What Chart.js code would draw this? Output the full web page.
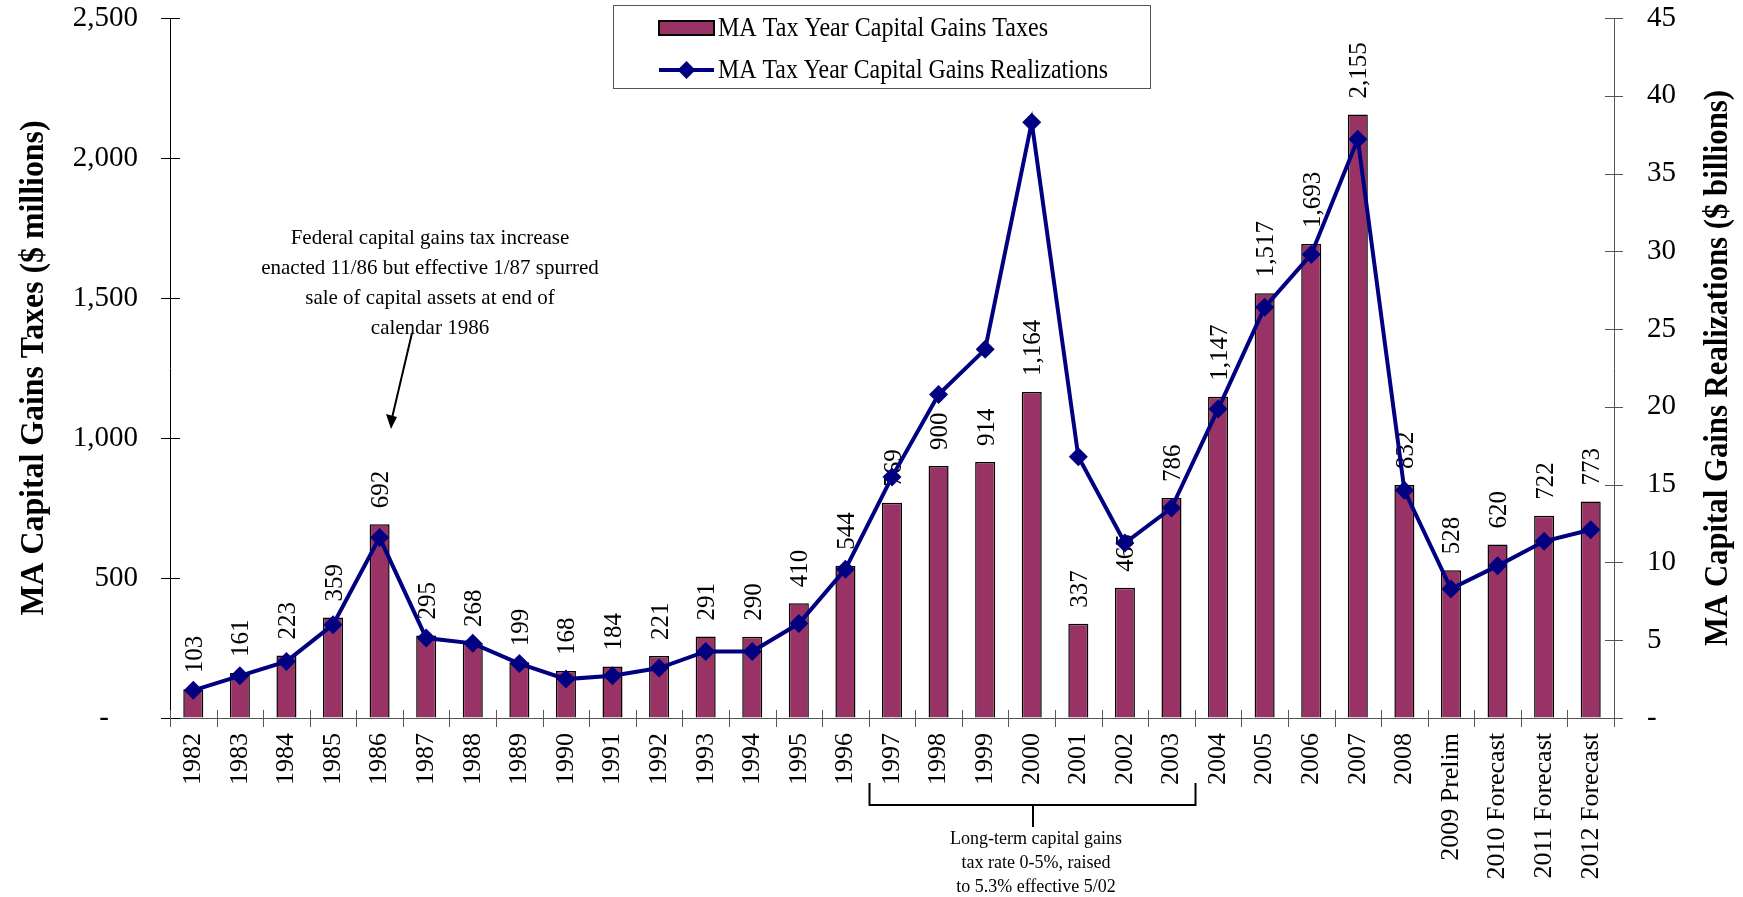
<!DOCTYPE html>
<html lang="en">
  <head>
    <meta charset="UTF-8" />
    <title>MA Capital Gains Taxes and Realizations</title>
    <script src="https://cdn.jsdelivr.net/npm/chart.js@4/dist/chart.umd.min.js"></script>
    <style>
      body { margin: 0; background: #fff; }
      #wrap { width: 1743px; height: 897px; position: relative; }
    </style>
  </head>
  <body>
    <div id="wrap"><canvas id="chart"></canvas></div>
    <script>
      var years = [
        '1982', '1983', '1984', '1985', '1986', '1987', '1988', '1989', '1990', '1991',
        '1992', '1993', '1994', '1995', '1996', '1997', '1998', '1999', '2000', '2001',
        '2002', '2003', '2004', '2005', '2006', '2007', '2008', '2009 Prelim',
        '2010 Forecast', '2011 Forecast', '2012 Forecast'
      ];

      // $ millions, left axis
      var taxes = [
        103, 161, 223, 359, 692, 295, 268, 199, 168, 184,
        221, 291, 290, 410, 544, 769, 900, 914, 1164, 337,
        465, 786, 1147, 1517, 1693, 2155, 832, 528, 620, 722, 773
      ];

      // $ billions, right axis
      var realizations = [
        1.78, 2.71, 3.64, 6.0, 11.6, 5.14, 4.8, 3.5, 2.5, 2.71,
        3.21, 4.28, 4.28, 6.07, 9.57, 15.5, 20.8, 23.7, 38.3, 16.8,
        11.25, 13.5, 19.86, 26.4, 29.8, 37.2, 14.64, 8.3, 9.78, 11.36, 12.1
      ];

      var taxLabel = 'MA Tax Year Capital Gains Taxes';
      var realLabel = 'MA Tax Year Capital Gains Realizations';
      var leftTitle = 'MA Capital Gains Taxes ($ millions)';
      var rightTitle = 'MA Capital Gains Realizations ($ billions)';
      var note1986 = [
        'Federal capital gains tax increase',
        'enacted 11/86 but effective 1/87 spurred',
        'sale of capital assets at end of',
        'calendar 1986'
      ];
      var noteRate = [
        'Long-term capital gains',
        'tax rate 0-5%, raised',
        'to 5.3% effective 5/02'
      ];

      var serif = "'Liberation Serif', 'Times New Roman', serif";
      var plum = '#993366';
      var navy = '#000080';

      function diamond(ctx, x, y, r) {
        ctx.beginPath();
        ctx.moveTo(x, y - r);
        ctx.lineTo(x + r, y);
        ctx.lineTo(x, y + r);
        ctx.lineTo(x - r, y);
        ctx.closePath();
        ctx.fill();
      }

      function vText(ctx, text, x, y, font, maxW) {
        ctx.save();
        ctx.translate(x, y);
        ctx.rotate(-Math.PI / 2);
        ctx.font = font;
        if (maxW) ctx.fillText(text, 0, 0, maxW);
        else ctx.fillText(text, 0, 0);
        ctx.restore();
      }

      // invisible tick marks only used to space the labels from the axis
      function spacer(len) {
        return {
          display: true,
          drawOnChartArea: false,
          drawTicks: true,
          tickLength: len,
          color: 'rgba(0,0,0,0)'
        };
      }

      var decor = {
        id: 'decor',
        beforeDatasetsDraw: function (chart) {
          // value labels above the bars, under the line
          var ctx = chart.ctx;
          var bars = chart.getDatasetMeta(1).data;
          ctx.save();
          ctx.fillStyle = '#000';
          ctx.textAlign = 'left';
          ctx.textBaseline = 'alphabetic';
          bars.forEach(function (bar, i) {
            vText(ctx, taxes[i].toLocaleString('en-US'), bar.x + 8.5, bar.y - 16, '25px ' + serif);
          });
          ctx.restore();
        },
        afterDraw: function (chart) {
          var ctx = chart.ctx;
          var area = chart.chartArea;
          var sx = chart.scales.x, sy = chart.scales.y, sy1 = chart.scales.y1;
          var step = (area.right - area.left) / years.length;
          ctx.save();

          // tick marks crossing the axes
          ctx.lineWidth = 1;
          ctx.strokeStyle = '#000';
          ctx.beginPath();
          sy.ticks.forEach(function (t) {
            var y = Math.round(sy.getPixelForValue(t.value)) + 0.5;
            ctx.moveTo(area.left - 9, y);
            ctx.lineTo(area.left + 10, y);
          });
          ctx.stroke();
          ctx.strokeStyle = '#555';
          ctx.beginPath();
          sy1.ticks.forEach(function (t) {
            var y = Math.round(sy1.getPixelForValue(t.value)) + 0.5;
            ctx.moveTo(area.right - 9, y);
            ctx.lineTo(area.right + 9, y);
          });
          for (var i = 0; i <= years.length; i++) {
            var x = Math.round(sx.getPixelForValue(0) - step / 2 + i * step) + 0.5;
            ctx.moveTo(x, area.bottom - 8);
            ctx.lineTo(x, area.bottom + 9);
          }
          ctx.stroke();

          // axis titles
          ctx.fillStyle = '#000';
          ctx.textAlign = 'center';
          ctx.textBaseline = 'alphabetic';
          vText(ctx, leftTitle, 43, 368, 'bold 34px ' + serif, 495);
          vText(ctx, rightTitle, 1727, 368, 'bold 34px ' + serif, 556);

          // legend box
          ctx.strokeStyle = '#555';
          ctx.lineWidth = 1;
          ctx.fillStyle = '#fff';
          ctx.fillRect(613.5, 5.5, 537, 83);
          ctx.strokeRect(613.5, 5.5, 537, 83);
          ctx.fillStyle = plum;
          ctx.fillRect(659, 21, 55, 14);
          ctx.strokeStyle = '#000';
          ctx.lineWidth = 2;
          ctx.strokeRect(659, 21, 55, 14);
          ctx.strokeStyle = navy;
          ctx.lineWidth = 4;
          ctx.beginPath();
          ctx.moveTo(659, 70);
          ctx.lineTo(714, 70);
          ctx.stroke();
          ctx.fillStyle = navy;
          diamond(ctx, 686.5, 70, 9);
          ctx.fillStyle = '#000';
          ctx.textAlign = 'left';
          ctx.textBaseline = 'middle';
          ctx.font = '27px ' + serif;
          ctx.fillText(taxLabel, 718, 29, 330);
          ctx.fillText(realLabel, 718, 71, 390);

          // 1986 note with arrow
          ctx.textAlign = 'center';
          ctx.font = '21px ' + serif;
          note1986.forEach(function (line, k) {
            ctx.fillText(line, 430, 238 + k * 30);
          });
          ctx.strokeStyle = '#000';
          ctx.lineWidth = 2;
          ctx.beginPath();
          ctx.moveTo(412, 333);
          ctx.lineTo(392, 418);
          ctx.stroke();
          ctx.fillStyle = '#000';
          ctx.beginPath();
          ctx.moveTo(391, 429);
          ctx.lineTo(386, 414);
          ctx.lineTo(397, 417);
          ctx.closePath();
          ctx.fill();

          // bracket under 1997-2003
          var bl = Math.round(sx.getPixelForValue(15) - step / 2) + 0.5;
          var br = Math.round(sx.getPixelForValue(21) + step / 2) + 0.5;
          var bm = Math.round((bl + br) / 2);
          ctx.lineWidth = 2;
          ctx.beginPath();
          ctx.moveTo(bl, 783);
          ctx.lineTo(bl, 805);
          ctx.lineTo(br, 805);
          ctx.lineTo(br, 783);
          ctx.moveTo(bm, 805);
          ctx.lineTo(bm, 827);
          ctx.stroke();
          ctx.font = '18px ' + serif;
          noteRate.forEach(function (line, k) {
            ctx.fillText(line, bm + 3, 839 + k * 24);
          });

          ctx.restore();
        }
      };

      new Chart(document.getElementById('chart'), {
        data: {
          labels: years,
          datasets: [
            {
              type: 'line',
              label: realLabel,
              data: realizations,
              yAxisID: 'y1',
              borderColor: navy,
              backgroundColor: navy,
              borderWidth: 4,
              pointStyle: 'rectRot',
              pointRadius: 9.5,
              pointBorderWidth: 0,
              tension: 0,
              order: 0
            },
            {
              type: 'bar',
              label: taxLabel,
              data: taxes,
              yAxisID: 'y',
              backgroundColor: plum,
              borderColor: '#000',
              borderWidth: 1.5,
              barPercentage: 0.43,
              categoryPercentage: 1,
              order: 1
            }
          ]
        },
        options: {
          responsive: true,
          maintainAspectRatio: false,
          animation: false,
          layout: { padding: { top: 18, left: 0, right: 0, bottom: 0 } },
          plugins: {
            legend: { display: false },
            tooltip: { enabled: false }
          },
          scales: {
            x: {
              offset: true,
              grid: spacer(15),
              border: { display: true, color: '#555', width: 1 },
              ticks: {
                autoSkip: false,
                minRotation: 90,
                maxRotation: 90,
                padding: 0,
                color: '#000',
                font: { family: serif, size: 26 }
              },
              afterFit: function (s) { s.height = 179; }
            },
            y: {
              position: 'left',
              min: 0,
              max: 2500,
              grid: spacer(32),
              border: { display: true, color: '#000', width: 1 },
              ticks: {
                stepSize: 500,
                padding: 0,
                color: '#000',
                font: { family: serif, size: 29 },
                callback: function (v) { return v === 0 ? '-    ' : v.toLocaleString('en-US'); }
              },
              afterFit: function (s) { s.width = 170; }
            },
            y1: {
              position: 'right',
              min: 0,
              max: 45,
              grid: spacer(33),
              border: { display: true, color: '#555', width: 1 },
              ticks: {
                stepSize: 5,
                padding: 0,
                color: '#000',
                font: { family: serif, size: 29 },
                callback: function (v) { return v === 0 ? '-' : v; }
              },
              afterFit: function (s) { s.width = 129; }
            }
          }
        },
        plugins: [decor]
      });
    </script>
  </body>
</html>
